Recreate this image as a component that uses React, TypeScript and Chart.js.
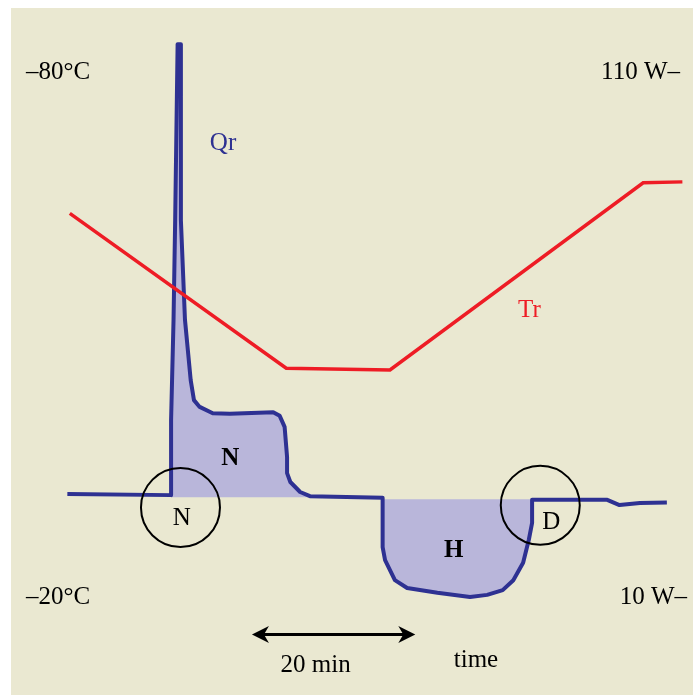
import { useEffect, useRef } from 'react';
import { Chart, registerables } from 'chart.js';

Chart.register(...registerables);

// ---- data (time in minutes, heat flow Qr in W, temperature Tr in °C) ----
const QR_TIME = [
  6.9, 19.6, 19.6, 19.9, 20.1, 20.4, 20.8, 20.8, 21.3, 22.0,
  22.4, 23.1, 24.7, 26.8, 32.1, 32.9, 33.5, 33.8, 33.8, 34.2,
  35.4, 36.6, 45.5, 45.5, 45.8, 47.0, 48.5, 52.2, 56.2, 58.3,
  60.2, 61.5, 62.7, 63.4, 63.8, 63.8, 73.0, 74.5, 77.0, 80.3,
];
const QR_POWER = [
  29.7, 29.5, 43.8, 62.9, 81.9, 115.4, 115.4, 81.9, 62.9, 51.4,
  47.6, 46.3, 45.1, 45.0, 45.3, 44.6, 42.5, 36.8, 33.7, 32.0,
  30.1, 29.3, 29.0, 19.6, 17.1, 13.3, 11.8, 10.9, 10.1, 10.5,
  11.4, 13.3, 16.6, 21.0, 24.2, 28.6, 28.6, 27.6, 28.0, 28.1,
];
const TR_TIME = [7.2, 33.7, 46.4, 77.4, 82.2];
const TR_TEMP = [-63.9, -46.2, -46.0, -67.4, -67.5];

// peak regions (index ranges into the Qr series) and their baselines
const N_RANGE = [1, 21];
const N_BASE = 29.1;
const H_RANGE = [22, 35];
const H_BASE = 28.7;

// axis tick labels
const TEMP_TICKS = [-80, -20];
const TEMP_TICK_LABELS = ['\u201380\u00b0C', '\u201320\u00b0C'];
const POWER_TICKS = [110, 10];
const POWER_TICK_LABELS = ['110 W\u2013', '10 W\u2013'];

// arrow spanning 20 min
const ARROW_START = 29.5;
const ARROW_SPAN = 20;

// ---- styles ----
const CW = 697;
const CH = 695;
const BEIGE = '#EAE8D1';
const BLUE = '#2E3192';
const LAVENDER = '#B9B6DA';
const RED = '#EE1C25';
const SERIF = '"Liberation Serif", "Times New Roman", serif';

const labels = [
  { text: 'Qr', t: 25.96, w: 96.57, color: BLUE, bold: false },
  { text: 'Tr', t: 63.48, w: 64.76, color: RED, bold: false },
  { text: 'N', t: 26.85, w: 36.48, color: '#000', bold: true },
  { text: 'N', t: 20.9, w: 25.09, color: '#000', bold: false },
  { text: 'H', t: 54.2, w: 18.9, color: '#000', bold: true },
  { text: 'D', t: 66.15, w: 24.38, color: '#000', bold: false },
];
const circles = [
  { t: 20.75, w: 27.14 },
  { t: 64.8, w: 27.56 },
];

const diagramPlugin = {
  id: 'diagram',
  beforeDraw(chart: any) {
    const ctx = chart.ctx;
    ctx.save();
    ctx.fillStyle = '#ffffff';
    ctx.fillRect(0, 0, CW, CH);
    ctx.fillStyle = BEIGE;
    ctx.fillRect(11, 8, 682, 687);
    ctx.restore();
  },
  afterDatasetsDraw(chart: any) {
    const ctx = chart.ctx;
    const x = chart.scales.x;
    const yQ = chart.scales.yQ;
    const yT = chart.scales.yT;
    ctx.save();

    // circles
    ctx.strokeStyle = '#000';
    ctx.lineWidth = 2;
    for (const c of circles) {
      ctx.beginPath();
      ctx.arc(x.getPixelForValue(c.t), yQ.getPixelForValue(c.w), 39.5, 0, Math.PI * 2);
      ctx.stroke();
    }

    // labels
    ctx.textBaseline = 'middle';
    ctx.textAlign = 'center';
    for (const l of labels) {
      ctx.font = (l.bold ? 'bold ' : '') + '25px ' + SERIF;
      ctx.fillStyle = l.color;
      ctx.fillText(l.text, x.getPixelForValue(l.t), yQ.getPixelForValue(l.w));
    }

    // axis tick labels
    ctx.fillStyle = '#000';
    ctx.font = '25px ' + SERIF;
    ctx.textAlign = 'left';
    TEMP_TICKS.forEach((v, i) => {
      ctx.fillText(TEMP_TICK_LABELS[i], 26, yT.getPixelForValue(v));
    });
    ctx.textAlign = 'right';
    POWER_TICKS.forEach((v, i) => {
      ctx.fillText(POWER_TICK_LABELS[i], i === 0 ? 680 : 687, yQ.getPixelForValue(v));
    });

    // 20 min arrow
    const x0 = x.getPixelForValue(ARROW_START);
    const x1 = x.getPixelForValue(ARROW_START + ARROW_SPAN);
    const ay = 634.5;
    ctx.strokeStyle = '#000';
    ctx.lineWidth = 3;
    ctx.beginPath();
    ctx.moveTo(x0 + 10, ay);
    ctx.lineTo(x1 - 10, ay);
    ctx.stroke();
    ctx.fillStyle = '#000';
    const head = (tip: number, dir: number) => {
      ctx.beginPath();
      ctx.moveTo(tip, ay);
      ctx.lineTo(tip + dir * 17, ay - 8.5);
      ctx.lineTo(tip + dir * 12, ay);
      ctx.lineTo(tip + dir * 17, ay + 8.5);
      ctx.closePath();
      ctx.fill();
    };
    head(x0, 1);
    head(x1, -1);

    ctx.textAlign = 'center';
    ctx.fillText('20 min', (x0 + x1) / 2 - 18, 665);
    ctx.fillText('time', 476, 660);

    ctx.restore();
  },
};

export default function App() {
  const ref = useRef<HTMLCanvasElement>(null);

  useEffect(() => {
    document.body.style.margin = '0';
    const canvas = ref.current;
    if (!canvas) return;
    const qrPoints = QR_TIME.map((t, i) => ({ x: t, y: QR_POWER[i] }));
    const trPoints = TR_TIME.map((t, i) => ({ x: t, y: TR_TEMP[i] }));
    const nPoints = qrPoints.slice(N_RANGE[0], N_RANGE[1] + 1);
    const hPoints = qrPoints.slice(H_RANGE[0], H_RANGE[1] + 1);

    const chart = new Chart(canvas, {
      type: 'line',
      data: {
        datasets: [
          {
            label: 'Tr',
            data: trPoints,
            yAxisID: 'yT',
            borderColor: RED,
            borderWidth: 3.5,
            pointRadius: 0,
            fill: false,
            order: 0,
          },
          {
            label: 'Qr',
            data: qrPoints,
            yAxisID: 'yQ',
            borderColor: BLUE,
            borderWidth: 4,
            borderJoinStyle: 'round',
            pointRadius: 0,
            fill: false,
            order: 1,
          },
          {
            label: 'N area',
            data: nPoints,
            yAxisID: 'yQ',
            borderWidth: 0,
            borderColor: 'rgba(0,0,0,0)',
            backgroundColor: LAVENDER,
            pointRadius: 0,
            fill: { value: N_BASE },
            order: 2,
          },
          {
            label: 'H area',
            data: hPoints,
            yAxisID: 'yQ',
            borderWidth: 0,
            borderColor: 'rgba(0,0,0,0)',
            backgroundColor: LAVENDER,
            pointRadius: 0,
            fill: { value: H_BASE },
            order: 2,
          },
        ],
      },
      options: {
        responsive: false,
        animation: false,
        devicePixelRatio: 1,
        layout: { padding: { left: 11, right: 4, top: 20, bottom: 45 } },
        plugins: { legend: { display: false }, tooltip: { enabled: false } },
        elements: { line: { tension: 0, capBezierPoints: false } },
        scales: {
          x: { type: 'linear', min: 0, max: 83.5, display: false },
          yQ: { type: 'linear', position: 'right', min: 0, max: 120, display: false },
          yT: { type: 'linear', position: 'left', min: -86, max: -14, reverse: true, display: false },
        },
      },
      plugins: [diagramPlugin],
    } as any);
    return () => chart.destroy();
  }, []);

  return <canvas ref={ref} width={CW} height={CH} style={{ display: 'block' }} />;
}
